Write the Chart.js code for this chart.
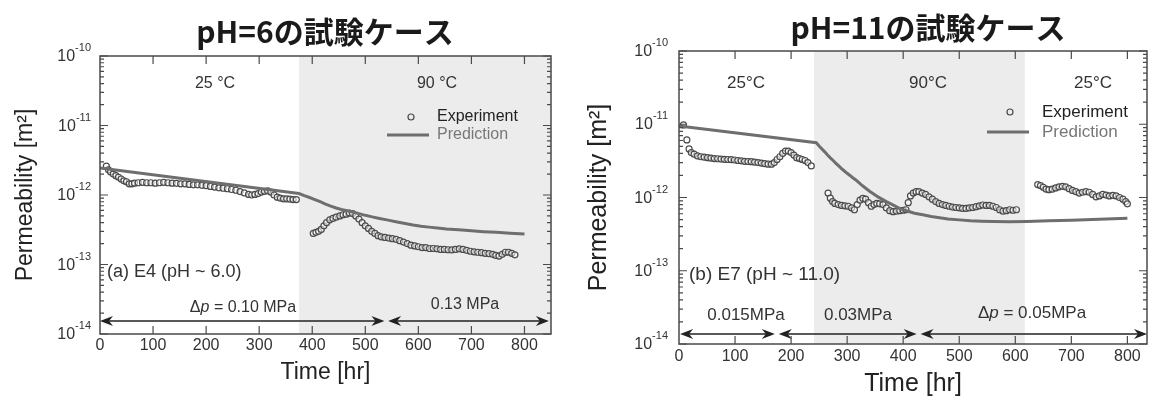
<!DOCTYPE html>
<html lang="ja">
<head>
  <meta charset="UTF-8" />
  <title>Permeability vs Time - pH 6 / pH 11</title>
  <script src="https://cdn.jsdelivr.net/npm/chart.js"></script>
  <style>
    body {
      margin: 0;
      background: #fff;
    }

    .wrap {
      position: relative;
      width: 1151px;
      height: 397px;
    }

    .wrap canvas {
      position: absolute;
      top: 0;
    }

    #leftChart { left: 0; }
    #rightChart { left: 575px; }
  </style>
</head>
<body>

  <div class="wrap">
    <canvas id="leftChart" width="575" height="397"></canvas>
    <canvas id="rightChart" width="576" height="397"></canvas>
  </div>

<script>
  // permeability values are in units of 1e-12 m^2

  // (a) E4, pH ~ 6.0
  const e4ExpTime = [12,16,20,25,30,35,40,45,50,55,60,65,72,80,88,96,104,112,120,128,
    136,144,152,160,168,176,184,192,200,208,216,224,232,240,248,256,264,272,280,286,
    292,298,304,310,316,322,328,334,340,346,352,358,364,370,
    402,407,412,417,422,427,433,439,445,452,458,464,470,476,482,488,494,500,506,512,
    518,524,530,537,544,551,558,565,572,579,586,593,600,607,614,621,628,635,642,649,
    656,663,670,677,684,691,698,705,712,719,726,733,740,746,752,758,764,770,776,782];
  const e4ExpPerm = [2.6,2.3,2.15,2.0,1.9,1.8,1.7,1.6,1.55,1.45,1.45,1.48,1.5,1.52,1.5,1.5,1.48,1.5,1.52,1.5,
    1.48,1.47,1.45,1.45,1.42,1.4,1.4,1.38,1.36,1.33,1.3,1.27,1.25,1.23,1.2,1.17,1.12,1.07,1.02,1.0,
    1.02,1.05,1.1,1.13,1.15,1.1,1.0,0.93,0.9,0.88,0.88,0.87,0.86,0.86,
    0.28,0.29,0.30,0.32,0.36,0.40,0.44,0.46,0.48,0.50,0.52,0.53,0.55,0.54,0.50,0.45,0.40,0.36,0.33,0.30,
    0.28,0.26,0.25,0.245,0.24,0.235,0.23,0.22,0.21,0.20,0.19,0.185,0.18,0.175,0.175,0.17,0.17,0.168,0.165,0.165,
    0.163,0.162,0.165,0.168,0.165,0.16,0.155,0.152,0.15,0.148,0.145,0.143,0.14,0.135,0.132,0.14,0.15,0.15,0.145,0.138];
  const e4PredTime = [0,375,385,395,405,415,425,435,445,455,466,477,488,500,513,527,543,560,575,590,605,620,636,653,676,700,723,747,773,800];
  const e4PredPerm = [2.45,1.05,0.98,0.92,0.86,0.8,0.74,0.69,0.65,0.62,0.595,0.57,0.54,0.51,0.485,0.46,0.435,0.41,0.39,0.37,0.355,0.345,0.335,0.325,0.315,0.305,0.297,0.29,0.282,0.275];

  // (b) E7, pH ~ 11.0
  const e7ExpTime = [8,14,18,22,27,33,39,45,51,57,63,69,75,81,87,93,99,105,111,117,
    123,129,135,141,147,153,159,165,170,175,180,185,190,195,200,205,210,215,220,225,230,236,
    266,270,274,278,284,290,296,302,308,313,318,323,328,333,338,343,348,353,358,364,
    370,376,382,388,394,400,405,409,413,418,423,428,434,440,446,452,458,464,470,476,
    482,488,494,500,506,512,518,524,530,536,542,548,554,560,566,572,578,584,590,596,602,
    640,645,650,655,660,666,672,678,684,690,696,702,708,714,720,726,732,738,744,750,
    756,762,768,774,780,786,792,797,800];
  const e7ExpPerm = [9.8,6.1,4.6,4.1,3.9,3.7,3.6,3.55,3.5,3.45,3.4,3.38,3.35,3.32,3.3,3.28,3.25,3.2,3.17,3.12,
    3.1,3.08,3.05,3.0,2.95,2.9,2.85,2.85,3.0,3.3,3.6,4.0,4.3,4.3,4.1,3.8,3.5,3.4,3.3,3.2,3.0,2.7,
    1.15,0.98,0.88,0.83,0.8,0.78,0.77,0.76,0.72,0.68,0.8,0.92,0.97,0.95,0.85,0.76,0.8,0.83,0.82,0.8,
    0.72,0.66,0.64,0.65,0.66,0.67,0.68,0.85,1.05,1.15,1.2,1.2,1.15,1.1,1.02,0.95,0.88,0.83,0.8,0.78,
    0.76,0.74,0.73,0.72,0.71,0.71,0.72,0.73,0.75,0.77,0.79,0.78,0.78,0.76,0.73,0.68,0.65,0.66,0.68,0.67,0.68,
    1.5,1.45,1.38,1.3,1.28,1.3,1.35,1.4,1.42,1.4,1.32,1.25,1.2,1.15,1.18,1.2,1.18,1.1,1.02,1.05,
    1.1,1.08,1.05,1.07,1.05,1.0,0.95,0.88,0.82];
  const e7PredTime = [0,245,250,255,260,265,270,275,280,285,290,295,300,305,310,315,320,325,332,340,348,355,362,370,378,385,392,400,410,420,435,450,465,480,500,520,540,560,590,620,660,700,750,800];
  const e7PredPerm = [9.5,5.6,5.05,4.6,4.2,3.8,3.48,3.2,2.93,2.7,2.48,2.3,2.14,2.0,1.86,1.75,1.62,1.5,1.36,1.22,1.11,1.02,0.95,0.88,0.82,0.77,0.72,0.68,0.645,0.61,0.58,0.55,0.53,0.51,0.495,0.48,0.475,0.47,0.468,0.47,0.48,0.49,0.505,0.52];

  const xTicks = [0,100,200,300,400,500,600,700,800];
  const yExponents = [-10,-11,-12,-13,-14];

  const FONT = "'Liberation Sans', Arial, sans-serif";
  const CJK = "'Noto Sans CJK JP', 'Noto Sans CJK SC', sans-serif";

  function toPoints(ts, ks) {
    return ts.map((t, i) => ({ x: t, y: ks[i] * 1e-12 }));
  }

  function richText(ctx, parts, x, y, align, size) {
    const fonts = parts.map(p => (p.i ? 'italic ' : '') + size + 'px ' + FONT);
    let w = 0;
    const ws = parts.map((p, k) => {
      ctx.font = fonts[k];
      const m = ctx.measureText(p.t).width;
      w += m;
      return m;
    });
    let cx = align === 'center' ? x - w / 2 : x;
    ctx.textAlign = 'left';
    parts.forEach((p, k) => {
      ctx.font = fonts[k];
      ctx.fillText(p.t, cx, y);
      cx += ws[k];
    });
  }

  function arrowHead(ctx, x, y, dir) {
    // dir 1: tip at x pointing left, dir -1: tip at x pointing right
    ctx.beginPath();
    ctx.moveTo(x, y);
    ctx.lineTo(x + dir * 13, y - 5);
    ctx.lineTo(x + dir * 9, y);
    ctx.lineTo(x + dir * 13, y + 5);
    ctx.closePath();
    ctx.fill();
  }

  // shading, frame, inward ticks, y labels with exponents, title and annotations
  function makeDecor(spec) {
    return {
      id: 'decor',
      beforeDraw(chart) {
        const { ctx, chartArea: ca, scales: { x } } = chart;
        ctx.save();
        ctx.fillStyle = '#ececec';
        const a = Math.max(ca.left, x.getPixelForValue(spec.shade[0]));
        const b = Math.min(ca.right, x.getPixelForValue(spec.shade[1]));
        ctx.fillRect(a, ca.top, b - a, ca.bottom - ca.top);
        ctx.restore();
      },
      afterDraw(chart) {
        const { ctx, chartArea: ca, scales: { x, y } } = chart;
        ctx.save();

        ctx.strokeStyle = '#4a4a4a';
        ctx.lineWidth = 1.5;
        ctx.strokeRect(ca.left, ca.top, ca.right - ca.left, ca.bottom - ca.top);

        ctx.lineWidth = 1.2;
        ctx.beginPath();
        xTicks.forEach(t => {
          if (t === 0) return;
          const px = x.getPixelForValue(t);
          ctx.moveTo(px, ca.bottom); ctx.lineTo(px, ca.bottom - 8);
          ctx.moveTo(px, ca.top); ctx.lineTo(px, ca.top + 8);
        });
        yExponents.forEach(e => {
          const py = y.getPixelForValue(Math.pow(10, e));
          ctx.moveTo(ca.left, py); ctx.lineTo(ca.left + 8, py);
          ctx.moveTo(ca.right, py); ctx.lineTo(ca.right - 8, py);
          if (e < -10) {
            for (let m = 2; m <= 9; m++) {
              const pm = y.getPixelForValue(m * Math.pow(10, e));
              ctx.moveTo(ca.left, pm); ctx.lineTo(ca.left + 4, pm);
              ctx.moveTo(ca.right, pm); ctx.lineTo(ca.right - 4, pm);
            }
          }
        });
        ctx.stroke();

        // y tick labels: 10 with superscript exponent
        ctx.fillStyle = '#333';
        ctx.textBaseline = 'alphabetic';
        ctx.textAlign = 'left';
        yExponents.forEach(e => {
          const py = y.getPixelForValue(Math.pow(10, e));
          const exp = String(e);
          ctx.font = '11px ' + FONT;
          const we = ctx.measureText(exp).width;
          ctx.font = '16px ' + FONT;
          const wb = ctx.measureText('10').width;
          const right = ca.left - spec.yLabelGap;
          ctx.fillText('10', right - we - wb, py + 5);
          ctx.font = '11px ' + FONT;
          ctx.fillText(exp, right - we, py - 5);
        });

        // title
        ctx.fillStyle = '#1a1a1a';
        ctx.font = 'bold 30px ' + CJK;
        ctx.textAlign = 'center';
        ctx.textBaseline = 'middle';
        ctx.fillText(spec.title, spec.titleX, spec.titleY);

        // annotations
        ctx.textBaseline = 'middle';
        spec.texts.forEach(tx => {
          ctx.fillStyle = tx.color || '#333';
          richText(ctx, tx.parts, tx.x, tx.y, tx.align, tx.size);
        });

        // legend symbols
        ctx.strokeStyle = '#4a4a4a';
        ctx.lineWidth = 1.2;
        ctx.beginPath();
        ctx.arc(spec.legend.cx, spec.legend.cy, 3, 0, Math.PI * 2);
        ctx.stroke();
        ctx.strokeStyle = '#6e6e6e';
        ctx.lineWidth = 3;
        ctx.beginPath();
        ctx.moveTo(spec.legend.lx1, spec.legend.ly);
        ctx.lineTo(spec.legend.lx2, spec.legend.ly);
        ctx.stroke();

        // pressure stage arrows
        ctx.strokeStyle = '#222';
        ctx.fillStyle = '#222';
        ctx.lineWidth = 1.5;
        spec.arrows.forEach(([t1, t2]) => {
          const x1 = Math.max(ca.left, x.getPixelForValue(t1));
          const x2 = Math.min(ca.right, x.getPixelForValue(t2));
          ctx.beginPath();
          ctx.moveTo(x1 + 6, spec.arrowY);
          ctx.lineTo(x2 - 6, spec.arrowY);
          ctx.stroke();
          arrowHead(ctx, x1, spec.arrowY, 1);
          arrowHead(ctx, x2, spec.arrowY, -1);
        });

        ctx.restore();
      }
    };
  }

  function buildChart(canvasId, cfg) {
    const ctx = document.getElementById(canvasId).getContext('2d');
    return new Chart(ctx, {
      type: 'scatter',
      data: {
        datasets: [{
          label: 'Prediction',
          data: toPoints(cfg.predTime, cfg.predPerm),
          showLine: true,
          borderColor: '#6e6e6e',
          borderWidth: 3,
          pointRadius: 0,
          tension: 0
        }, {
          label: 'Experiment',
          data: toPoints(cfg.expTime, cfg.expPerm),
          showLine: false,
          pointStyle: 'circle',
          pointRadius: 3,
          pointBorderWidth: 1.2,
          pointBorderColor: '#4a4a4a',
          pointBackgroundColor: 'rgba(255,255,255,0.55)'
        }]
      },
      options: {
        responsive: false,
        animation: false,
        devicePixelRatio: 1,
        layout: {
          autoPadding: false,
          padding: { left: 0, right: cfg.padRight, top: cfg.padTop, bottom: 0 }
        },
        plugins: {
          legend: { display: false },
          tooltip: { enabled: false }
        },
        scales: {
          x: {
            type: 'linear',
            min: 0,
            max: cfg.xMax,
            afterBuildTicks: s => { s.ticks = xTicks.map(v => ({ value: v })); },
            afterFit: s => { s.height = cfg.xHeight; },
            grid: { display: false, drawTicks: false },
            border: { display: false },
            ticks: {
              color: '#333',
              padding: cfg.xTickPad,
              maxRotation: 0,
              font: { family: FONT, size: 16 }
            },
            title: {
              display: true,
              text: 'Time [hr]',
              color: '#222',
              padding: { top: 0, bottom: cfg.xTitlePad },
              font: { family: FONT, size: cfg.titleSize, lineHeight: 1 }
            }
          },
          y: {
            type: 'logarithmic',
            min: 1e-14,
            max: 1e-10,
            afterFit: s => { s.width = cfg.yWidth; },
            grid: { display: false, drawTicks: false },
            border: { display: false },
            ticks: { display: false },
            title: {
              display: true,
              text: 'Permeability [m²]',
              color: '#222',
              padding: { top: cfg.yTitlePad, bottom: 0 },
              font: { family: FONT, size: cfg.titleSize, lineHeight: 1 }
            }
          }
        }
      },
      plugins: [makeDecor(cfg.decor)]
    });
  }

  buildChart('leftChart', {
    expTime: e4ExpTime, expPerm: e4ExpPerm,
    predTime: e4PredTime, predPerm: e4PredPerm,
    xMax: 850, padRight: 24, padTop: 56, xHeight: 63, yWidth: 100,
    xTickPad: 2, xTitlePad: 13, yTitlePad: 14, titleSize: 23,
    decor: {
      shade: [375, 850],
      yLabelGap: 9,
      title: 'pH=6の試験ケース', titleX: 325, titleY: 32,
      texts: [
        { parts: [{ t: '25 °C' }], x: 215, y: 84, align: 'center', size: 16 },
        { parts: [{ t: '90 °C' }], x: 437, y: 84, align: 'center', size: 16 },
        { parts: [{ t: 'Experiment' }], x: 437, y: 117, align: 'left', size: 16, color: '#222' },
        { parts: [{ t: 'Prediction' }], x: 437, y: 135, align: 'left', size: 16, color: '#777' },
        { parts: [{ t: '(a) E4 (pH ~ 6.0)' }], x: 107, y: 272, align: 'left', size: 18 },
        { parts: [{ t: 'Δ' }, { t: 'p', i: true }, { t: ' = 0.10 MPa' }], x: 243, y: 308, align: 'center', size: 16 },
        { parts: [{ t: '0.13 MPa' }], x: 465, y: 305, align: 'center', size: 16 }
      ],
      legend: { cx: 411, cy: 117, lx1: 387, lx2: 429, ly: 135 },
      arrowY: 321,
      arrows: [[0, 536], [543, 846]]
    }
  });

  buildChart('rightChart', {
    expTime: e7ExpTime, expPerm: e7ExpPerm,
    predTime: e7PredTime, predPerm: e7PredPerm,
    xMax: 835, padRight: 4, padTop: 51, xHeight: 53, yWidth: 104,
    xTickPad: 3, xTitlePad: 0, yTitlePad: 12, titleSize: 25,
    decor: {
      shade: [241, 617],
      yLabelGap: 11,
      title: 'pH=11の試験ケース', titleX: 353, titleY: 28,
      texts: [
        { parts: [{ t: '25°C' }], x: 171, y: 83, align: 'center', size: 17 },
        { parts: [{ t: '90°C' }], x: 353, y: 83, align: 'center', size: 17 },
        { parts: [{ t: '25°C' }], x: 518, y: 83, align: 'center', size: 17 },
        { parts: [{ t: 'Experiment' }], x: 467, y: 112, align: 'left', size: 17, color: '#222' },
        { parts: [{ t: 'Prediction' }], x: 467, y: 132, align: 'left', size: 17, color: '#777' },
        { parts: [{ t: '(b) E7 (pH ~ 11.0)' }], x: 114, y: 275, align: 'left', size: 19 },
        { parts: [{ t: '0.015MPa' }], x: 171, y: 315, align: 'center', size: 17 },
        { parts: [{ t: '0.03MPa' }], x: 283, y: 315, align: 'center', size: 17 },
        { parts: [{ t: 'Δ' }, { t: 'p', i: true }, { t: ' = 0.05MPa' }], x: 457, y: 313, align: 'center', size: 17 }
      ],
      legend: { cx: 435, cy: 112, lx1: 412, lx2: 454, ly: 132 },
      arrowY: 334,
      arrows: [[2, 171], [178, 424], [431, 835]]
    }
  });
</script>

</body>
</html>
